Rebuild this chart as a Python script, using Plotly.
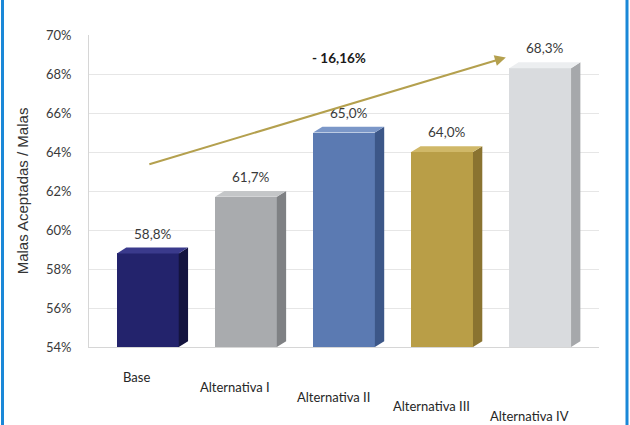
import plotly.graph_objects as go

# Categories and values (% of "malas" accepted)
categories = ["Base", "Alternativa I", "Alternativa II", "Alternativa III", "Alternativa IV"]
values = [58.8, 61.7, 65.0, 64.0, 68.3]
value_labels = ["58,8%", "61,7%", "65,0%", "64,0%", "68,3%"]
front_colors = ["#23236c", "#a9abae", "#5b7ab2", "#b99e47", "#d9dbde"]
side_colors = ["#14143f", "#7f8184", "#3c5788", "#8a7330", "#a6a8ab"]
top_colors = ["#3a3a8c", "#c4c6c8", "#7b97c8", "#d0b868", "#eceef0"]

y_ticks = [54, 56, 58, 60, 62, 64, 66, 68, 70]
y_tick_text = ["54%", "56%", "58%", "60%", "62%", "64%", "66%", "68%", "70%"]
y_min, y_max = 54, 70

trend_label = "- 16,16%"

bar_w = 0.63      # width of the front face (category units)
depth_x = 0.095   # horizontal depth of the box
depth_y = 0.30    # vertical depth of the box (in %)

idx = list(range(len(categories)))
label_font = "Lato, Liberation Sans, sans-serif"

fig = go.Figure()

# side and top faces give the bars a box look
for i, v in zip(idx, values):
    xr = i + bar_w / 2
    xl = i - bar_w / 2
    fig.add_trace(go.Scatter(
        x=[xr, xr + depth_x, xr + depth_x, xr, xr],
        y=[y_min, y_min + depth_y, v + depth_y, v, y_min],
        fill="toself", fillcolor=side_colors[i], mode="lines",
        line=dict(width=0, color=side_colors[i]), hoverinfo="skip", showlegend=False))
    fig.add_trace(go.Scatter(
        x=[xl, xr, xr + depth_x, xl + depth_x, xl],
        y=[v, v, v + depth_y, v + depth_y, v],
        fill="toself", fillcolor=top_colors[i], mode="lines",
        line=dict(width=0, color=top_colors[i]), hoverinfo="skip", showlegend=False))

# front faces
fig.add_trace(go.Bar(
    x=idx, y=[v - y_min for v in values], base=y_min, width=bar_w,
    marker=dict(color=front_colors, line=dict(width=0)),
    showlegend=False, hoverinfo="skip"))

# value labels above each bar
for i, (v, t) in enumerate(zip(values, value_labels)):
    fig.add_annotation(x=i + depth_x / 2, y=v + depth_y, text=t, showarrow=False,
                       yanchor="bottom", yshift=4,
                       font=dict(family=label_font, size=13.5, color="#3a3a3a"))

# category labels, stepping down toward the right
for i, c in enumerate(categories):
    fig.add_annotation(x=i, xref="x", y=0, yref="paper", text=c, showarrow=False,
                       yanchor="middle", yshift=-(30 + 9.8 * i), xshift=-11,
                       font=dict(family=label_font, size=13, color="#262626"))

# trend arrow from Base toward Alternativa IV
fig.add_annotation(x=3.65, y=68.85, ax=0.0, ay=63.35, xref="x", yref="y", axref="x", ayref="y",
                   showarrow=True, arrowhead=2, arrowsize=1.1, arrowwidth=2, arrowcolor="#b4a04e",
                   text="")
fig.add_annotation(x=1.95, y=68.82, text="<b>" + trend_label + "</b>", showarrow=False,
                   font=dict(family=label_font, size=13.5, color="#1a1a1a"))

# blue frame on the left and right edges of the figure
left_px, right_px = 89, 31
plot_w = 630 - left_px - right_px
for px in (2.5, 627):
    xp = (px - left_px) / plot_w
    fig.add_shape(type="line", xref="paper", yref="paper", x0=xp, x1=xp, y0=-1, y1=2,
                  line=dict(color="#1a88d8", width=3))

fig.update_layout(
    width=630, height=425,
    margin=dict(l=left_px, r=right_px, t=35, b=78),
    paper_bgcolor="white", plot_bgcolor="white",
    bargap=0,
    xaxis=dict(range=[-0.6, 4.6], showticklabels=False, showgrid=False, zeroline=False,
               showline=True, linecolor="#d6d6d6", linewidth=1, ticks=""),
    yaxis=dict(range=[y_min, y_max], tickvals=y_ticks, ticktext=y_tick_text,
               showgrid=True, gridcolor="#e6e6e6", gridwidth=1, zeroline=False,
               showline=True, linecolor="#d6d6d6", linewidth=1, ticks="", ticklabelstandoff=14,
               tickfont=dict(family=label_font, size=13, color="#3a3a3a"),
               title=dict(text="Malas Aceptadas / Malas", standoff=13,
                          font=dict(family="Liberation Sans, Arial, sans-serif", size=15, color="#333333"))),
)

fig.write_html("out.html")
